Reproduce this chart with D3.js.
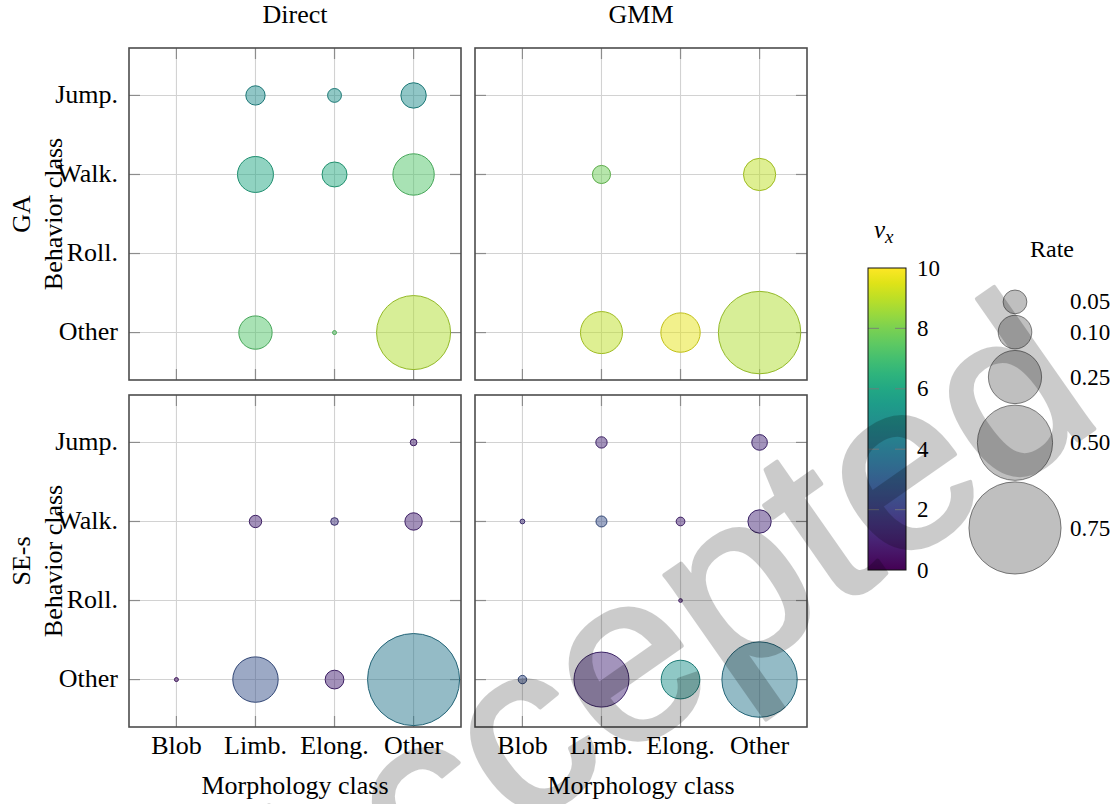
<!DOCTYPE html>
<html>
<head>
<meta charset="utf-8">
<script src="https://cdn.jsdelivr.net/npm/d3@7"></script>
<style>
  body { margin: 0; background: #fff; }
  svg { display: block; }
  text { font-family: "Liberation Serif", "Times New Roman", serif; fill: #000; }
</style>
</head>
<body>
<svg id="chart" width="1118" height="804"></svg>
<script>
// ---- categories ----
const morphClasses = ["Blob", "Limb.", "Elong.", "Other"];
const behaviorClasses = ["Jump.", "Walk.", "Roll.", "Other"];
const methods = ["Direct", "GMM"];
const datasets = ["GA", "SE-s"];

// ---- rates (rows: behavior, cols: morphology); null = no occurrence ----
const rateGADirect = [
  [null, 0.033, 0.017, 0.057],
  [null, 0.114, 0.055, 0.151],
  [null, null, null, null],
  [null, 0.098, 0.0014, 0.484]
];
const vxGADirect = [
  [null, 4.9, 5.0, 4.9],
  [null, 6.0, 6.1, 7.3],
  [null, null, null, null],
  [null, 7.3, 7.4, 8.8]
];
const rateGAGMM = [
  [null, null, null, null],
  [null, 0.029, null, 0.092],
  [null, null, null, null],
  [null, 0.156, 0.137, 0.600]
];
const vxGAGMM = [
  [null, null, null, null],
  [null, 7.8, null, 9.0],
  [null, null, null, null],
  [null, 9.0, 9.6, 8.8]
];
const rateSEDirect = [
  [null, null, null, 0.004],
  [null, 0.0135, 0.0052, 0.0267],
  [null, null, null, null],
  [0.0014, 0.182, 0.031, 0.748]
];
const vxSEDirect = [
  [null, null, null, 0.9],
  [null, 1.0, 1.6, 1.0],
  [null, null, null, null],
  [0.6, 2.6, 1.0, 4.0]
];
const rateSEGMM = [
  [null, 0.0114, null, 0.0216],
  [0.002, 0.0107, 0.0067, 0.048],
  [null, null, 0.0012, null],
  [0.0062, 0.267, 0.132, 0.502]
];
const vxSEGMM = [
  [null, 1.1, null, 1.2],
  [1.5, 2.5, 1.0, 1.2],
  [null, null, 0.8, null],
  [2.5, 1.2, 5.1, 4.0]
];

// ---- legends ----
const colorTicks = [0, 2, 4, 6, 8, 10];
const rateLegend = [0.05, 0.10, 0.25, 0.50, 0.75];
const rateLegendLabels = ["0.05", "0.10", "0.25", "0.50", "0.75"];

// ---- layout ----
const svg = d3.select("#chart");
const panelSize = 332;
const colLeft = [129, 475];
const rowTop = [48, 395];
const fontSize = 26;

const x = d3.scalePoint().domain(morphClasses).range([0, panelSize]).padding(0.6);
const y = d3.scalePoint().domain(behaviorClasses).range([0, panelSize]).padding(0.6);
const r = d3.scaleSqrt().domain([0, 1]).range([0, 53.2]);
const color = d3.scaleSequential(d3.interpolateViridis).domain([0, 10]);

const panels = [
  { row: 0, col: 0, rate: rateGADirect, vx: vxGADirect },
  { row: 0, col: 1, rate: rateGAGMM, vx: vxGAGMM },
  { row: 1, col: 0, rate: rateSEDirect, vx: vxSEDirect },
  { row: 1, col: 1, rate: rateSEGMM, vx: vxSEGMM }
];

const tickLen = 11;

panels.forEach(p => {
  const g = svg.append("g")
    .attr("transform", `translate(${colLeft[p.col]},${rowTop[p.row]})`);

  // grid
  g.selectAll("line.gx").data(morphClasses).join("line")
    .attr("x1", d => x(d)).attr("x2", d => x(d))
    .attr("y1", 0).attr("y2", panelSize)
    .attr("stroke", "#d2d2d2").attr("stroke-width", 1.1);
  g.selectAll("line.gy").data(behaviorClasses).join("line")
    .attr("y1", d => y(d)).attr("y2", d => y(d))
    .attr("x1", 0).attr("x2", panelSize)
    .attr("stroke", "#d2d2d2").attr("stroke-width", 1.1);

  // inward ticks on all four sides
  const tk = g.append("g").attr("stroke", "#8c8c8c").attr("stroke-width", 1.2);
  morphClasses.forEach(d => {
    tk.append("line").attr("x1", x(d)).attr("x2", x(d)).attr("y1", 0).attr("y2", tickLen);
    tk.append("line").attr("x1", x(d)).attr("x2", x(d)).attr("y1", panelSize - tickLen).attr("y2", panelSize);
  });
  behaviorClasses.forEach(d => {
    tk.append("line").attr("y1", y(d)).attr("y2", y(d)).attr("x1", 0).attr("x2", tickLen);
    tk.append("line").attr("y1", y(d)).attr("y2", y(d)).attr("x1", panelSize - tickLen).attr("x2", panelSize);
  });

  // bubbles
  const pts = [];
  p.rate.forEach((row, i) => row.forEach((v, j) => {
    if (v !== null) pts.push({ b: behaviorClasses[i], m: morphClasses[j], rate: v, vx: p.vx[i][j] });
  }));
  pts.sort((a, b) => b.rate - a.rate);
  g.selectAll("circle").data(pts).join("circle")
    .attr("cx", d => x(d.m)).attr("cy", d => y(d.b))
    .attr("r", d => r(d.rate))
    .attr("fill", d => color(d.vx)).attr("fill-opacity", 0.5)
    .attr("stroke", d => d3.color(color(d.vx)).darker(0.5)).attr("stroke-width", 1);

  // frame
  g.append("rect").attr("width", panelSize).attr("height", panelSize)
    .attr("fill", "none").attr("stroke", "#4d4d4d").attr("stroke-width", 1.6);

  // y tick labels (left column)
  if (p.col === 0) {
    g.selectAll("text.yl").data(behaviorClasses).join("text")
      .attr("x", -11).attr("y", d => y(d)).attr("dy", "0.3em")
      .attr("text-anchor", "end").style("font-size", fontSize + "px")
      .text(d => d);
  }
  // x tick labels (bottom row)
  if (p.row === 1) {
    g.selectAll("text.xl").data(morphClasses).join("text")
      .attr("x", d => x(d)).attr("y", panelSize + 27)
      .attr("text-anchor", "middle").style("font-size", fontSize + "px")
      .text(d => d);
    g.append("text").attr("x", panelSize / 2).attr("y", panelSize + 67)
      .attr("text-anchor", "middle").style("font-size", fontSize + "px")
      .text("Morphology class");
  }
  // column titles
  if (p.row === 0) {
    g.append("text").attr("x", panelSize / 2).attr("y", -25)
      .attr("text-anchor", "middle").style("font-size", fontSize + "px")
      .text(methods[p.col]);
  }
  // row titles
  if (p.col === 0) {
    g.append("text").attr("transform", `translate(-99,${panelSize / 2}) rotate(-90)`)
      .attr("text-anchor", "middle").style("font-size", fontSize + "px")
      .text(datasets[p.row]);
    g.append("text").attr("transform", `translate(-67,${panelSize / 2}) rotate(-90)`)
      .attr("text-anchor", "middle").style("font-size", fontSize + "px")
      .text("Behavior class");
  }
});

// ---- colour bar ----
const cb = { x: 868, y: 268, w: 38, h: 302 };
const defs = svg.append("defs");
const grad = defs.append("linearGradient").attr("id", "viridisGrad")
  .attr("x1", 0).attr("y1", 1).attr("x2", 0).attr("y2", 0);
d3.range(0, 1.0001, 0.05).forEach(t => {
  grad.append("stop").attr("offset", t).attr("stop-color", d3.interpolateViridis(t));
});
const cbScale = d3.scaleLinear().domain([0, 10]).range([cb.y + cb.h, cb.y]);
svg.append("rect").attr("x", cb.x).attr("y", cb.y).attr("width", cb.w).attr("height", cb.h)
  .attr("fill", "url(#viridisGrad)");
const cbt = svg.append("g").attr("stroke", "#777").attr("stroke-opacity", 0.7).attr("stroke-width", 1.2);
colorTicks.filter(v => v > 0 && v < 10).forEach(v => {
  cbt.append("line").attr("x1", cb.x).attr("x2", cb.x + tickLen).attr("y1", cbScale(v)).attr("y2", cbScale(v));
  cbt.append("line").attr("x1", cb.x + cb.w - tickLen).attr("x2", cb.x + cb.w).attr("y1", cbScale(v)).attr("y2", cbScale(v));
});
svg.append("rect").attr("x", cb.x).attr("y", cb.y).attr("width", cb.w).attr("height", cb.h)
  .attr("fill", "none").attr("stroke", "#111").attr("stroke-width", 1);
svg.selectAll("text.cbl").data(colorTicks).join("text")
  .attr("x", cb.x + cb.w + 11).attr("y", d => cbScale(d)).attr("dy", "0.33em")
  .style("font-size", "23px").text(d => d);
const vt = svg.append("text").attr("x", 874).attr("y", 238)
  .style("font-size", "25px").style("font-style", "italic");
vt.append("tspan").text("v");
vt.append("tspan").attr("dy", 5).style("font-size", "19px").text("x");

// ---- rate legend ----
const legX = 1015;
svg.append("text").attr("x", 1052).attr("y", 257).attr("text-anchor", "middle")
  .style("font-size", "24px").text("Rate");
let cursor = 290;
const legItems = rateLegend.map((v, i) => {
  const rr = r(v);
  const cy = cursor + rr;
  cursor = cy + rr + 1.5;
  return { v, cy, rr, label: rateLegendLabels[i] };
});
svg.selectAll("circle.leg").data(legItems).join("circle")
  .attr("cx", legX).attr("cy", d => d.cy).attr("r", d => d.rr)
  .attr("fill", "#808080").attr("fill-opacity", 0.5)
  .attr("stroke", "#333").attr("stroke-opacity", 0.6).attr("stroke-width", 1);
svg.selectAll("text.legl").data(legItems).join("text")
  .attr("x", 1070).attr("y", d => d.cy).attr("dy", "0.33em")
  .style("font-size", "23px").text(d => d.label);

// ---- status stamp (flattened so the outline does not double the tint) ----
const stampSize = 240;
svg.append("g").attr("opacity", 0.2)
  .append("text")
  .attr("transform", "translate(1107,420) rotate(-35)")
  .attr("text-anchor", "end")
  .style("font-family", "'Liberation Sans', Arial, sans-serif")
  .style("font-size", stampSize + "px")
  .style("fill", "#000")
  .attr("stroke", "#000").attr("stroke-width", 4).attr("stroke-linejoin", "round")
  .text("Accepted");
</script>
</body>
</html>
